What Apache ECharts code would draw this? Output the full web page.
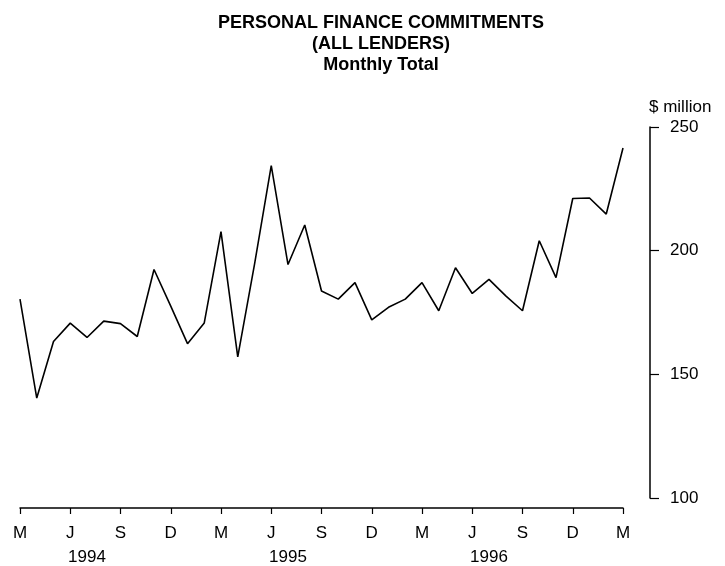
<!DOCTYPE html>
<html>
<head>
<meta charset="utf-8">
<title>Personal Finance Commitments</title>
<script src="https://cdn.jsdelivr.net/npm/echarts@6/dist/echarts.min.js"></script>
<style>
html,body{margin:0;padding:0;background:#fff;}
#main{width:725px;height:566px;}
</style>
</head>
<body>
<div id="main"></div>
<script>
// months from Mar 1994 to Mar 1997
var months = ['M','A','M','J','J','A','S','O','N','D','J','F',
              'M','A','M','J','J','A','S','O','N','D','J','F',
              'M','A','M','J','J','A','S','O','N','D','J','F','M'];
// monthly total, $ million
var totals = [180.4, 140.4, 163.3, 170.7, 164.9, 171.5, 170.5, 165.3, 192.4, 177.6, 162.4, 170.8,
              207.7, 157.1, 194.5, 234.4, 194.4, 210.4, 183.7, 180.4, 187.1, 172.0, 177.1, 180.4,
              187.1, 175.7, 193.1, 182.7, 188.4, 181.7, 175.7, 204.0, 189.1, 221.1, 221.3, 214.8, 241.5];
var yearIdx = [4, 16, 28];
var years = ['1994', '1995', '1996'];
var yTicks = [100, 150, 200, 250];

var lblFont = 'Liberation Sans, Arial, sans-serif';

function yearLabel(idx) {
	var k = yearIdx.indexOf(idx);
	return k >= 0 ? years[k] : '';
}

var myChart = echarts.init(document.getElementById('main'));
var option = {
	animation: false,
	backgroundColor: '#fff',
	title: {
		text: 'PERSONAL FINANCE COMMITMENTS\n(ALL LENDERS)\nMonthly Total',
		left: 376,
		top: 8,
		textAlign: 'center',
		textStyle: {
			fontFamily: lblFont,
			fontWeight: 'bold',
			fontSize: 18,
			lineHeight: 21,
			color: '#000'
		}
	},
	grid: {
		left: 20,
		right: 102,
		top: 127,
		bottom: 65
	},
	xAxis: [{
		type: 'category',
		data: months,
		boundaryGap: false,
		position: 'bottom',
		offset: 10,
		axisLine: {lineStyle: {color: '#000', width: 1.5}},
		axisTick: {interval: 2, length: 6, lineStyle: {color: '#000', width: 1.2}},
		axisLabel: {interval: 2, margin: 17, color: '#000', fontSize: 17, fontFamily: lblFont},
		splitLine: {show: false}
	}, {
		type: 'category',
		data: months,
		boundaryGap: false,
		position: 'bottom',
		offset: 10,
		axisLine: {show: false},
		axisTick: {show: false},
		axisLabel: {
			interval: 0,
			margin: 41,
			color: '#000',
			fontSize: 17,
			fontFamily: lblFont,
			formatter: function (val, idx) { return yearLabel(idx); }
		},
		splitLine: {show: false}
	}],
	yAxis: {
		type: 'value',
		position: 'right',
		offset: 27,
		min: yTicks[0],
		max: yTicks[yTicks.length - 1],
		interval: 50,
		name: '$ million',
		nameLocation: 'end',
		nameGap: 11,
		nameTextStyle: {align: 'left', color: '#000', fontSize: 17, fontFamily: lblFont, padding: [0, 0, 0, -1]},
		axisLine: {show: true, lineStyle: {color: '#000', width: 1.5}},
		axisTick: {show: true, length: 9, lineStyle: {color: '#000', width: 1.2}},
		axisLabel: {margin: 20, color: '#000', fontSize: 17, fontFamily: lblFont},
		splitLine: {show: false}
	},
	series: [{
		type: 'line',
		data: totals,
		showSymbol: false,
		lineStyle: {color: '#000', width: 1.6},
		itemStyle: {color: '#000'}
	}]
};
myChart.setOption(option);
</script>
</body>
</html>
